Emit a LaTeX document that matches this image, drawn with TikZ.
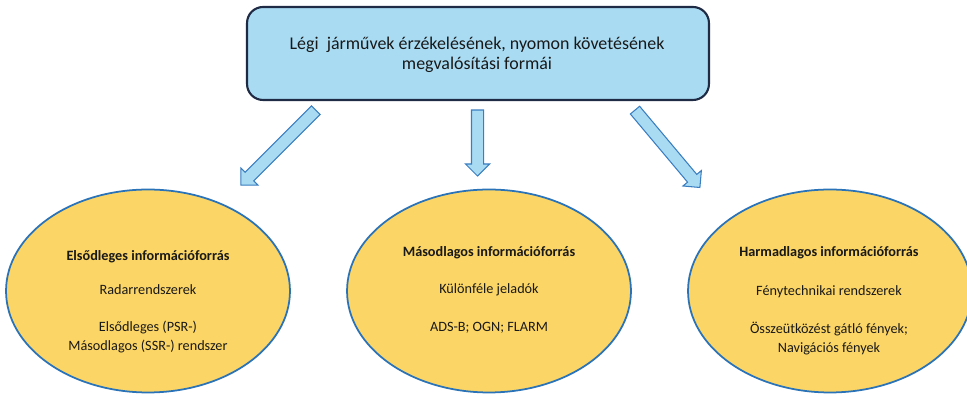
\documentclass[tikz,border=0pt]{standalone}
\usepackage{fontspec}
\setmainfont{Carlito}
\usetikzlibrary{shapes.geometric,shapes.arrows}
\definecolor{boxblue}{HTML}{A9DCF3}
\definecolor{boxline}{HTML}{1F2A44}
\definecolor{arrowline}{HTML}{3A7DC0}
\definecolor{ovalfill}{HTML}{FBD565}
\definecolor{ovalline}{HTML}{2B73B8}
\tikzset{
  topbox/.style={draw=boxline, fill=boxblue, line width=1.2pt, rounded corners=0.32cm,
    minimum width=9.24cm, minimum height=1.86cm, inner sep=0},
  oval/.style={ellipse, draw=ovalline, fill=ovalfill, line width=1pt,
    minimum width=5.68cm, minimum height=4.06cm, inner sep=0},
  blockarrow/.style={single arrow, draw=arrowline, fill=boxblue, line width=0.6pt,
    single arrow head extend=0.12cm, single arrow head indent=0,
    inner xsep=0, inner ysep=0.11cm, anchor=center},
  txt/.style={font=\fontsize{8.1}{10.8}\selectfont, align=center, inner sep=0, text=black!90},
  ttl/.style={txt, font=\fontsize{8.1}{10.8}\selectfont\bfseries}
}
\begin{document}
\begin{tikzpicture}[x=0.02cm, y=-0.02cm]
  \useasboundingbox (0,0) rectangle (967,394);
  %Top box
  \node[topbox] (forms) at (478,53.5) {};
  \node[txt, font=\fontsize{10.2}{11.4}\selectfont] (formstxt) at (477,55)
    {Légi\ \ járművek érzékelésének, nyomon követésének\\ megvalósítási formái};

  %Block arrows
  \node[blockarrow, rotate=225, minimum height=2.12cm] (arrL) at (280.5,145.5) {};
  \node[blockarrow, rotate=-90, minimum height=1.32cm] (arrM) at (477.5,140) {};
  \node[blockarrow, rotate=-50, minimum height=2.02cm] (arrR) at (665.5,146.5) {};

  %Ellipses
  \node[oval] (prim) at (148,291) {};
  \node[oval] (sec) at (489,291) {};
  \node[oval] (ter) at (830,291) {};

  %Primary
  \node[ttl] (primttl) at (148,257) {Elsődleges információforrás};
  \node[txt] (primA) at (148,290) {Radarrendszerek};
  \node[txt] (primB) at (148,337.5) {Elsődleges (PSR-)\\ Másodlagos (SSR-) rendszer};
  %Secondary
  \node[ttl] (secttl) at (489,253) {Másodlagos információforrás};
  \node[txt] (secA) at (489,290) {Különféle jeladók};
  \node[txt] (secB) at (489,328) {ADS-B; OGN; FLARM};
  %Tertiary
  \node[ttl] (terttl) at (829,253) {Harmadlagos információforrás};
  \node[txt] (terA) at (829,292) {Fénytechnikai rendszerek};
  \node[txt] (terB) at (829,339) {Összeütközést gátló fények;\\ Navigációs fények};
\end{tikzpicture}
\end{document}
